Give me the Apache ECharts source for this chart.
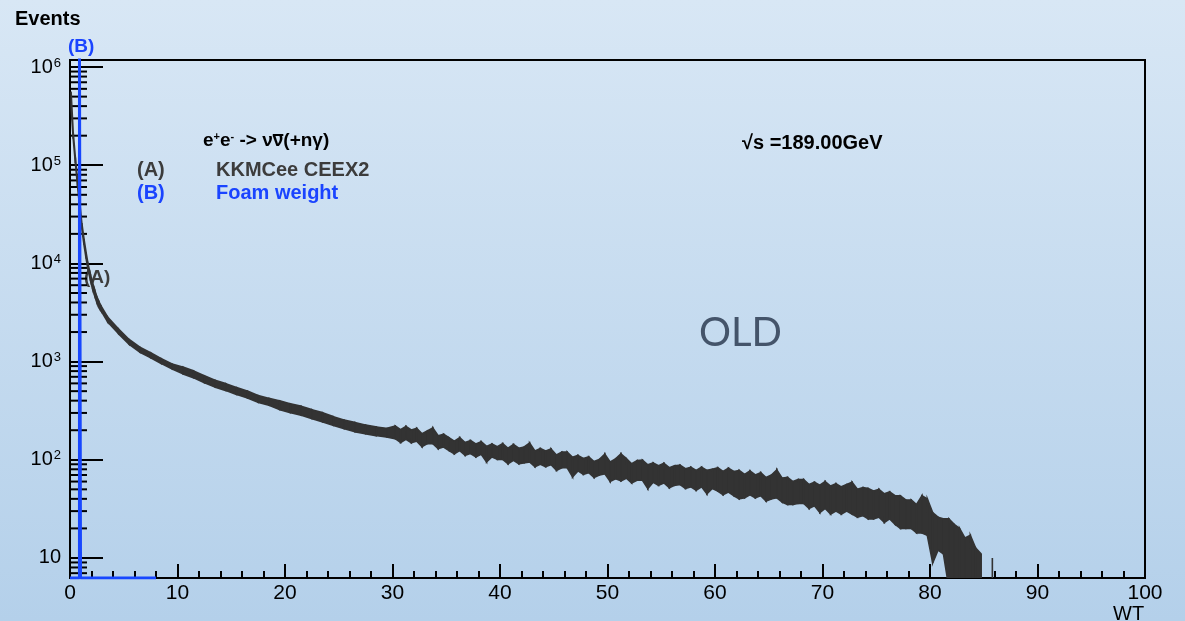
<!DOCTYPE html>
<html>
<head>
<meta charset="utf-8">
<title>WT</title>
<script src="https://cdn.jsdelivr.net/npm/echarts/dist/echarts.min.js"></script>
<style>html,body{margin:0;padding:0;}</style>
</head>
<body>
<div id="main" style="width:1185px;height:621px;"></div>
<script type="text/javascript">
// (A) KKMCee CEEX2 : bin edges, and the low / high edge of the noisy band in each bin
var binEdges = [0,0.2,0.4,0.6,0.8,1,1.2,1.4,1.6,1.8,2,2.2,2.4,2.6,2.8,
  3,4,5,6,7,8,9,10,11,12,13,14,15,16,17,18,19,20,21,22,23,24,25,26,27,28,29,
  30,30.5,31,31.5,32,32.5,33,33.5,34,34.5,35,35.5,36,36.5,37,37.5,38,38.5,39,39.5,
  40,40.5,41,41.5,42,42.5,43,43.5,44,44.5,45,45.5,46,46.5,47,47.5,48,48.5,49,49.5,
  50,50.5,51,51.5,52,52.5,53,53.5,54,54.5,55,55.5,56,56.5,57,57.5,58,58.5,59,59.5,
  60,60.5,61,61.5,62,62.5,63,63.5,64,64.5,65,65.5,66,66.5,67,67.5,68,68.5,69,69.5,
  70,70.5,71,71.5,72,72.5,73,73.5,74,74.5,75,75.5,76,76.5,77,77.5,78,78.5,79,79.5,
  80,80.5,81,81.5,82,82.5,83,83.5,84,84.5,85,85.7,85.9];
var kkHigh = [562000,214000,120000,70800,42700,25700,17800,12900,9550,7760,6310,5370,4570,4070,3670,
  2850,2160,1680,1400,1230,1072,944,881,804,716,646,596,543,501,452,422,398,372,351,324,302,275,254,240,226,216,209,
  221,203,219,201,209,184,197,211,176,182,168,155,168,150,157,145,153,137,145,136,
  146,131,143,131,135,148,123,130,123,129,112,120,120,106,111,103,107,96,101,114,
  95,102,115,103,91,98,99,89,93,87,92,83,87,88,81,84,78,84,78,80,
  83,76,82,76,78,71,77,70,74,66,70,79,65,66,60,63,63,56,59,55,
  60,54,57,53,56,59,50,52,51,48,50,45,47,43,43,39,39,35,43,40,
  29,26,25,25,22,20,16,17,12.6,11,null,10];
var kkLow = [389000,186000,105000,61700,37200,22400,15500,11200,8320,6760,5500,4680,3980,3550,3270,
  2540,1930,1500,1245,1096,955,841,750,684,610,550,507,462,427,385,359,324,302,285,263,243,224,207,193,184,176,170,
  164,150,162,149,155,136,146,146,130,135,124,115,124,111,116,107,114,95,107,101,
  101,91,99,91,93,95,85,90,85,89,78,83,83,67,77,71,74,66,70,72,
  60,64,61,65,58,62,62,51,59,55,58,52,55,56,51,53,49,53,45,51,
  48,44,47,43,40,41,44,41,43,38,40,41,37,35,35,36,36,32,34,29,
  32,28,30,28,30,28,26,27,25,25,26,23,25,22,20,20,20,18,18,17,
  8.9,12,11,5,5,5,5,5,5,5,null,5];

// (B) Foam weight : all entries sit in one narrow bin at WT = 1
var foamEdges = [0, 0.88, 0.98, 8];
var foamCounts = [0, 2000000, 0];

var yMin = 6.25, yMax = 1.18e6;
var minorTickVals = [];
for (var n = 0; n <= 5; n++) {
  for (var m = 2; m <= 9; m++) {
    var v = m * Math.pow(10, n);
    if (v > yMin && v < yMax) minorTickVals.push([0, v]);
  }
}

// band pieces between neighbouring bin centres
var kkData = [];
for (var i = 0; i < kkHigh.length; i++) {
  if (kkHigh[i] == null) continue;
  var xc = (binEdges[i] + binEdges[i + 1]) / 2;
  var k = i + 1;
  if (k < kkHigh.length && kkHigh[k] != null) {
    kkData.push([xc, (binEdges[k] + binEdges[k + 1]) / 2, kkLow[i], kkHigh[i], kkLow[k], kkHigh[k]]);
  } else {
    kkData.push([xc, xc, kkLow[i], kkHigh[i], kkLow[i], kkHigh[i]]);
  }
}
var foamLine = [];
for (var j = 0; j < foamCounts.length; j++) {
  var c = Math.max(foamCounts[j], yMin);
  foamLine.push([foamEdges[j], c]);
  foamLine.push([foamEdges[j + 1], c]);
}

var FONT = '"Liberation Sans", Arial, sans-serif';
var overline = new echarts.graphic.LinearGradient(0, 0, 0, 1, [
  {offset: 0, color: 'rgba(0,0,0,0)'}, {offset: 0.14, color: 'rgba(0,0,0,0)'},
  {offset: 0.14, color: '#000'}, {offset: 0.25, color: '#000'},
  {offset: 0.25, color: 'rgba(0,0,0,0)'}, {offset: 1, color: 'rgba(0,0,0,0)'}]);

var myChart = echarts.init(document.getElementById('main'));
var option = {
  backgroundColor: new echarts.graphic.LinearGradient(0, 0, 0, 1, [
    {offset: 0, color: '#d8e7f5'}, {offset: 1, color: '#b4d0ea'}]),
  animation: false,
  grid: {left: 70, right: 40, top: 60, bottom: 43, show: true, borderColor: '#000', borderWidth: 2, backgroundColor: 'transparent'},
  xAxis: {
    type: 'value', min: 0, max: 100, interval: 10,
    axisLine: {lineStyle: {color: '#000', width: 2}},
    axisTick: {inside: true, length: 14, lineStyle: {color: '#000', width: 2}},
    minorTick: {show: true, splitNumber: 5, length: 7, lineStyle: {color: '#000', width: 2}},
    splitLine: {show: false},
    axisLabel: {color: '#000', fontSize: 21, fontFamily: FONT, margin: 5}
  },
  yAxis: {
    type: 'log', logBase: 10, min: yMin, max: yMax,
    axisLine: {show: true, lineStyle: {color: '#000', width: 2}},
    axisTick: {show: true, inside: true, length: 33, lineStyle: {color: '#000', width: 2}},
    splitLine: {show: false},
    axisLabel: {
      showMinLabel: false, showMaxLabel: false, margin: 9,
      formatter: function (v) {
        var p = Math.log10(v);
        if (Math.abs(p - Math.round(p)) > 1e-6) return '';
        p = Math.round(p);
        if (p === 1) return '{b|10}';
        return '{b|10}{e|' + p + '}';
      },
      rich: {
        b: {fontSize: 20, fontFamily: FONT, color: '#000'},
        e: {fontSize: 13, fontFamily: FONT, color: '#000', verticalAlign: 'top', padding: [0, 0, 8, 1]}
      }
    }
  },
  graphic: [
    {type: 'text', left: 15, top: 9, style: {text: 'Events', font: 'bold 20px ' + FONT, fill: '#000'}},
    {type: 'text', left: 68, top: 37, style: {text: '(B)', font: 'bold 19px ' + FONT, fill: '#1a44ff'}},
    {type: 'text', left: 84, top: 268, style: {text: '(A)', font: 'bold 19px ' + FONT, fill: '#3c3c3c'}},
    {type: 'text', left: 203, top: 131, style: {
      text: '{a|e}{s|+}{a|e}{s|-}{a| -> \u03bd}{o|\u03bd}{a|(+n\u03b3)}',
      rich: {
        a: {font: 'bold 19px ' + FONT, fill: '#000'},
        o: {font: 'bold 19px ' + FONT, fill: '#000', backgroundColor: overline},
        s: {font: 'bold 11px ' + FONT, fill: '#000', verticalAlign: 'top'}
      }}},
    {type: 'text', left: 137, top: 160, style: {text: '(A)', font: 'bold 20px ' + FONT, fill: '#3c3c3c'}},
    {type: 'text', left: 216, top: 160, style: {text: 'KKMCee CEEX2', font: 'bold 20px ' + FONT, fill: '#3c3c3c'}},
    {type: 'text', left: 137, top: 183, style: {text: '(B)', font: 'bold 20px ' + FONT, fill: '#1a44ff'}},
    {type: 'text', left: 216, top: 183, style: {text: 'Foam weight', font: 'bold 20px ' + FONT, fill: '#1a44ff'}},
    {type: 'text', left: 742, top: 133, style: {text: '\u221as =189.00GeV', font: 'bold 20px ' + FONT, fill: '#000'}},
    {type: 'text', left: 699, top: 313, style: {text: 'OLD', font: '40px Lato, "Open Sans", sans-serif', fill: '#44546a'}},
    {type: 'text', left: 1113, top: 604, style: {text: 'WT', font: '20px ' + FONT, fill: '#000'}}
  ],
  series: [
    {
      name: 'KKMCee CEEX2', type: 'custom', clip: true,
      encode: {x: [0, 1], y: [2, 3, 4, 5]},
      data: kkData,
      renderItem: function (params, api) {
        var a = api.coord([api.value(0), api.value(3)]);
        var b = api.coord([api.value(1), api.value(5)]);
        var c = api.coord([api.value(1), api.value(4)]);
        var d = api.coord([api.value(0), api.value(2)]);
        return {type: 'polygon', shape: {points: [a, b, c, d]},
          style: {fill: '#333', stroke: '#333', lineWidth: 1.6}};
      },
      z: 3
    },
    {
      name: 'Foam weight', type: 'line', data: foamLine, symbol: 'none',
      lineStyle: {color: '#1747ff', width: 3}, z: 4
    },
    {
      name: 'minor ticks', type: 'custom', clip: false, silent: true,
      data: minorTickVals,
      renderItem: function (params, api) {
        var p = api.coord([api.value(0), api.value(1)]);
        return {type: 'line', shape: {x1: p[0], y1: p[1], x2: p[0] + 17, y2: p[1]},
          style: {stroke: '#000', lineWidth: 2}};
      },
      z: 2
    }
  ]
};
myChart.setOption(option);
window.onresize = function () {
  myChart.resize();
};
</script>
</body>
</html>
